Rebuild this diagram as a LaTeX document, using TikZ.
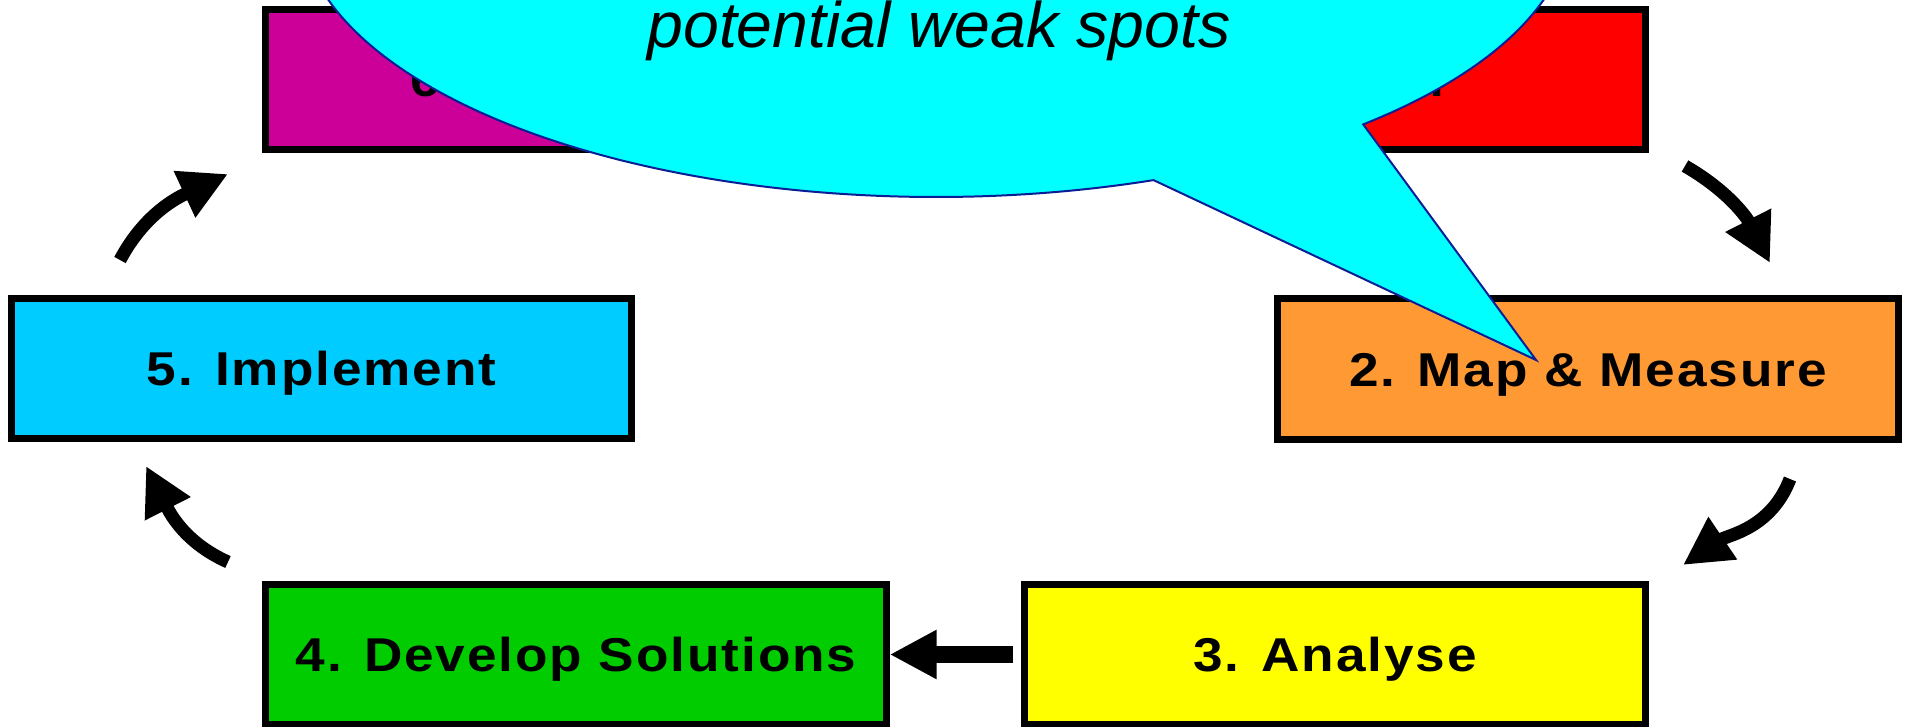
\documentclass[tikz,border=0pt]{standalone}
\usepackage{fontspec}
\setmainfont{Liberation Sans}
\newfontfamily\stepfont[LetterSpace=4, FakeStretch=1.12]{Liberation Sans}
\usetikzlibrary{arrows.meta}

\definecolor{sixfill}{RGB}{204,0,153}
\definecolor{onefill}{RGB}{255,0,0}
\definecolor{twofill}{RGB}{255,153,51}
\definecolor{threefill}{RGB}{255,255,0}
\definecolor{fourfill}{RGB}{0,204,0}
\definecolor{fivefill}{RGB}{0,204,255}
\definecolor{bubblefill}{RGB}{0,255,255}
\definecolor{bubbleline}{RGB}{10,30,150}

\begin{document}
\begin{tikzpicture}[x=0.01cm,y=0.01cm,
  stepbox/.style={draw=black, line width=0.07cm, minimum width=6.2cm,
    minimum height=1.4cm, inner sep=0pt,
    font=\stepfont\bfseries\fontsize{13.5}{16}\selectfont,
    text height=0.34cm, text depth=0pt},
  cyclearrow/.style={line width=0.13cm,
    -{Triangle[length=0.48cm,width=0.48cm]}},
  straightarrow/.style={line width=0.16cm,
    -{Triangle[length=0.47cm,width=0.46cm]}},
  bubble/.style={fill=bubblefill, draw=bubbleline, line width=0.02cm},
  bubbletext/.style={anchor=base, inner sep=0pt,
    font=\itshape\fontsize{18.3}{21}\selectfont}
]
\useasboundingbox (0,0) rectangle (1908,727);
\clip (0,0) rectangle (1908,727);

% the six steps of the cycle (the top two labels sit a little right of centre)
\node[stepbox, fill=sixfill]   (s6) at (576,647.5) {\hspace*{0.24cm}6. Evaluation};
\node[stepbox, fill=onefill]   (s1) at (1335,647.5) {\hspace*{0.32cm}1. Plan};
\node[stepbox, fill=fivefill]  (s5) at (321.5,358.5) {5. Implement};
\node[stepbox, fill=twofill]   (s2) at (1588,358) {2. Map \& Measure};
\node[stepbox, fill=fourfill]  (s4) at (576,72.5) {4. Develop Solutions};
\node[stepbox, fill=threefill] (s3) at (1335,72.5) {3. Analyse};

% ends of the curved arrows between the steps
\coordinate (a1s) at (1685,561);  \coordinate (a1e) at (1770,464);
\coordinate (a2s) at (1790,248);  \coordinate (a2e) at (1683,162);
\coordinate (a4s) at (228,165);   \coordinate (a4e) at (146,261);
\coordinate (a5s) at (120,467);   \coordinate (a5e) at (228,553);

\draw[cyclearrow] (a1s) to[out=-30, in=117] (a1e);
\draw[cyclearrow] (a2s) to[out=249, in=34] (a2e);
\draw[straightarrow] ([xshift=-0.08cm]s3.west) -- (s4.east);
\draw[cyclearrow] (a4s) to[out=156, in=-63] (a4e);
\draw[cyclearrow] (a5s) to[out=62, in=205] (a5e);

% speech bubble pointing at step 2
\coordinate (bc) at (936,810);
\coordinate (btip) at (1536,367);
\path[bubble] ([shift={(-47.8:636 and 280)}]bc)
  arc[start angle=-47.8, end angle=290, x radius=636, y radius=280]
  -- (btip) -- cycle;
\node[bubbletext] (note) at (939,679) {potential weak spots};
\end{tikzpicture}
\end{document}
